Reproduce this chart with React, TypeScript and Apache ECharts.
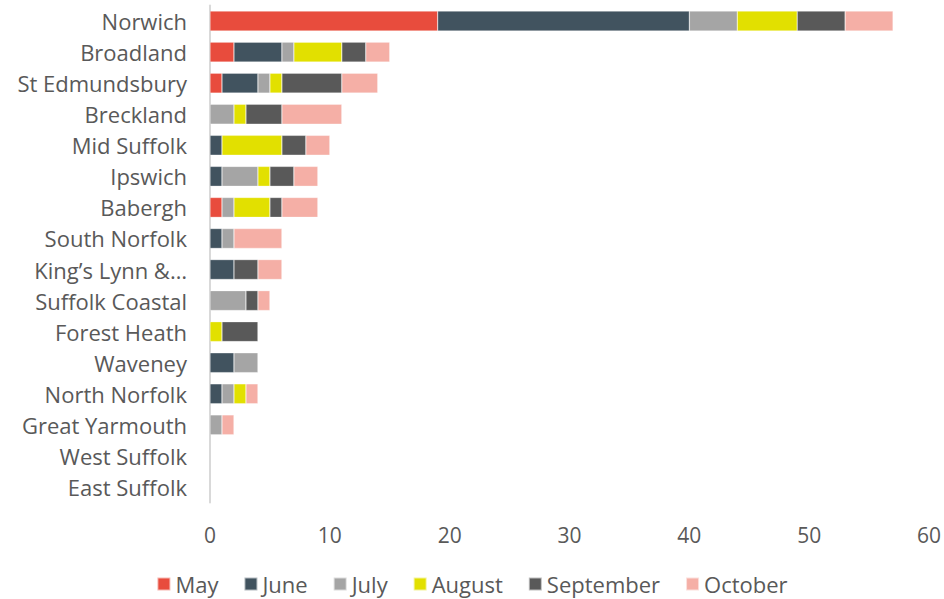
import React, { useEffect, useRef } from "react";
import * as echarts from "echarts";

const categories = [
  "Norwich",
  "Broadland",
  "St Edmundsbury",
  "Breckland",
  "Mid Suffolk",
  "Ipswich",
  "Babergh",
  "South Norfolk",
  "King’s Lynn & West Norfolk",
  "Suffolk Coastal",
  "Forest Heath",
  "Waveney",
  "North Norfolk",
  "Great Yarmouth",
  "West Suffolk",
  "East Suffolk",
];

const seriesNames = ["May", "June", "July", "August", "September", "October"];

const may = [19, 2, 1, 0, 0, 0, 1, 0, 0, 0, 0, 0, 0, 0, 0, 0];
const june = [21, 4, 3, 0, 1, 1, 0, 1, 2, 0, 0, 2, 1, 0, 0, 0];
const july = [4, 1, 1, 2, 0, 3, 1, 1, 0, 3, 0, 2, 1, 1, 0, 0];
const august = [5, 4, 1, 1, 5, 1, 3, 0, 0, 0, 1, 0, 1, 0, 0, 0];
const september = [4, 2, 5, 3, 2, 2, 1, 0, 2, 1, 3, 0, 0, 0, 0, 0];
const october = [4, 2, 3, 5, 2, 2, 3, 4, 2, 1, 0, 0, 1, 1, 0, 0];

const seriesData = [may, june, july, august, september, october];
const colors = ["#E84C3D", "#41535F", "#A5A5A5", "#E2E000", "#595959", "#F5AFA6"];

const xTicks = { min: 0, max: 60, interval: 10 };

export default function App() {
  const ref = useRef<HTMLDivElement>(null);
  useEffect(() => {
    if (!ref.current) return;
    const chart = echarts.init(ref.current, undefined, { renderer: "svg" });
    const font = "'Open Sans', sans-serif";
    chart.setOption({
      animation: false,
      backgroundColor: "#ffffff",
      textStyle: { fontFamily: font },
      grid: { left: 210, right: 8, top: 5.5, bottom: 96.5, containLabel: false },
      legend: {
        bottom: -1,
        left: "center",
        itemWidth: 13,
        itemHeight: 13,
        itemGap: 25,
        icon: "rect",
        textStyle: { fontSize: 22, color: "#595959", fontFamily: font },
        data: seriesNames,
      },
      xAxis: {
        type: "value",
        min: xTicks.min,
        max: xTicks.max,
        interval: xTicks.interval,
        splitLine: { show: false },
        axisLine: { show: false },
        axisTick: { show: false },
        axisLabel: { fontSize: 21, color: "#595959", margin: 22, fontFamily: font },
      },
      yAxis: {
        type: "category",
        inverse: true,
        data: categories,
        axisLine: { show: true, lineStyle: { color: "#D9D9D9", width: 2 } },
        axisTick: { show: false },
        axisLabel: {
          fontSize: 22,
          color: "#595959",
          margin: 23,
          fontFamily: font,
          formatter: (v: string) => (v.length > 16 ? v.slice(0, 13) + "…" : v),
        },
      },
      series: seriesNames.map((name, i) => ({
        name,
        type: "bar",
        stack: "total",
        barWidth: "64%",
        data: seriesData[i].map((v) => (v === 0 ? null : v)),
        itemStyle: { color: colors[i], borderColor: "rgba(255,255,255,0.6)", borderWidth: 0.5 },
      })),
    });
    return () => chart.dispose();
  }, []);
  return <div ref={ref} style={{ width: 944, height: 599, position: "fixed", left: 0, top: 0 }} />;
}
